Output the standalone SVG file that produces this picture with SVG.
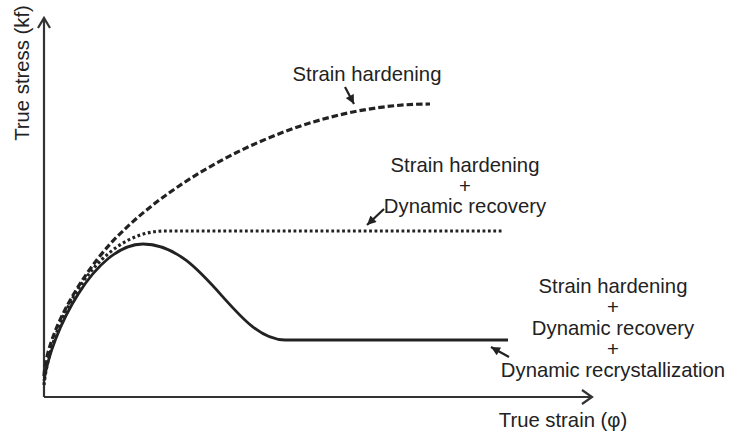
<svg xmlns="http://www.w3.org/2000/svg" width="744" height="436" viewBox="0 0 744 436">
  <style>
    .lbl { font-family: "Liberation Sans", Arial, sans-serif; font-size: 20.3px; fill: #222; }
    .axis { stroke: #333; stroke-width: 2.2; fill: none; }
    .curve { stroke: #222; fill: none; }
    .ptr { stroke: #222; stroke-width: 2.2; fill: none; }
  </style>
  <defs>
    <marker id="head" viewBox="0 0 10 10" refX="10" refY="5" markerUnits="userSpaceOnUse" markerWidth="10" markerHeight="9" orient="auto">
      <path d="M0,0 L10,5 L0,10 z" fill="#222"/>
    </marker>
  </defs>
  <rect width="744" height="436" fill="#fff"/>

  <g id="axes">
    <path class="axis" d="M44,397 L44,18 M38,28 L44,18 L50,28"/>
    <path class="axis" d="M44,397 L592,397 M582,390 L592,397 L582,404"/>
  </g>

  <g id="axis-labels">
    <text class="lbl" transform="translate(29,73) rotate(-90)" text-anchor="middle">True stress (kf)</text>
    <text class="lbl" x="563" y="427" text-anchor="middle">True strain (φ)</text>
  </g>

  <g id="connectors">
    <path id="curve-hardening" class="curve" stroke-width="3.2" stroke-dasharray="6.5 3" d="M44,376 C47,326 92,259 123,231 C180,175 300,104 430,104"/>
    <path id="curve-recovery" class="curve" stroke-width="3.2" stroke-dasharray="2.8 2.6" d="M44,385 C50,325 95,231 165,231 L503,231"/>
    <path id="curve-recrystallization" class="curve" stroke-width="2.8" d="M44,381 C51,332 95,244 143,244 C205,244 235,340 285,340 L508,340"/>
    <line class="ptr" x1="345" y1="87" x2="354" y2="104" marker-end="url(#head)"/>
    <line class="ptr" x1="384" y1="209" x2="367" y2="225" marker-end="url(#head)"/>
    <line class="ptr" x1="509" y1="357" x2="491" y2="347" marker-end="url(#head)"/>
  </g>

  <g id="label-hardening">
    <text class="lbl" x="367" y="81" text-anchor="middle">Strain hardening</text>
  </g>

  <g id="label-recovery">
    <text class="lbl" x="465" y="172" text-anchor="middle">Strain hardening</text>
    <text class="lbl" x="465" y="192.5" text-anchor="middle">+</text>
    <text class="lbl" x="465" y="213" text-anchor="middle">Dynamic recovery</text>
  </g>

  <g id="label-recrystallization">
    <text class="lbl" x="613" y="293" text-anchor="middle">Strain hardening</text>
    <text class="lbl" x="613" y="314" text-anchor="middle">+</text>
    <text class="lbl" x="613" y="335" text-anchor="middle">Dynamic recovery</text>
    <text class="lbl" x="613" y="356" text-anchor="middle">+</text>
    <text class="lbl" x="613" y="377" text-anchor="middle">Dynamic recrystallization</text>
  </g>
</svg>
